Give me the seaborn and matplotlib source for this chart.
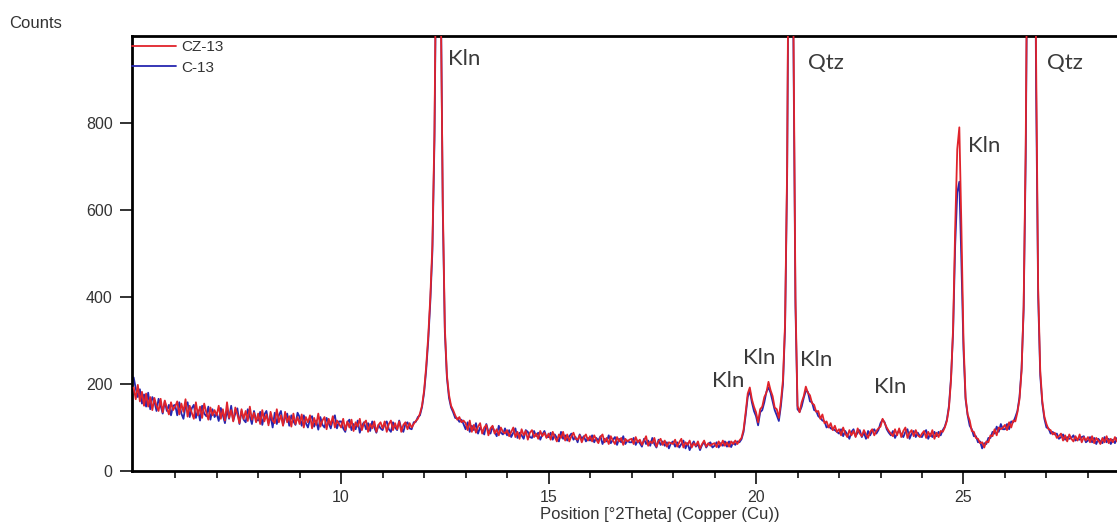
import numpy as np
import pandas as pd
import matplotlib
matplotlib.use("Agg")
import matplotlib.pyplot as plt
import seaborn as sns

# ---------------- data ----------------
scan_start = 5.00      # °2Theta
scan_step = 0.05       # °2Theta

series_names = ["CZ-13", "C-13"]

cz13_counts = [
    192,165,198,160,182,150,178,148,170,140,168,150,138,166,135,162,145,130,158,140,   # 5.00
    148,160,130,155,136,165,125,150,134,120,158,128,148,122,155,135,118,146,128,140,   # 6.00
    128,150,120,142,116,158,122,140,114,146,130,110,142,120,138,115,148,118,134,112,   # 7.00
    132,108,140,114,130,105,136,116,110,142,112,128,104,136,112,126,102,132,108,124,   # 8.00
    108,130,100,124,112,128,98,122,106,132,102,116,124,96,120,106,126,100,116,108,     # 9.00
    100,120,94,114,100,118,92,112,102,120,94,110,116,90,108,98,114,90,106,112,         # 10.00
    98,114,90,108,116,94,110,96,114,90,106,112,96,110,100,108,115,120,132,150,         # 11.00
    185,240,310,400,520,780,1300,2000,1100,620,330,220,175,150,140,128,118,124,112,116,# 12.00
    110,94,116,90,106,88,102,110,86,100,106,82,98,104,86,96,82,100,90,86,              # 13.00
    94,80,90,100,78,90,74,96,82,92,72,88,94,78,86,74,92,80,88,76,                      # 14.00
    86,72,90,78,68,84,76,90,70,84,68,80,88,74,72,82,66,78,84,70,                       # 15.00
    80,68,82,72,64,78,84,66,76,62,80,70,62,78,68,76,60,74,68,72,                       # 16.00
    74,62,78,66,72,60,70,80,58,68,64,76,56,68,74,60,70,56,66,64,                       # 17.00
    62,72,56,66,74,54,66,60,70,54,64,58,68,52,62,70,56,64,58,62,                       # 18.00
    64,55,68,58,70,58,66,56,68,62,70,62,70,76,95,135,178,192,165,148,                  # 19.00
    135,112,142,148,170,180,205,186,172,146,142,122,160,210,340,700,1500,3200,1050,400,# 20.00
    150,135,158,172,194,180,174,156,152,136,138,120,130,110,114,100,110,94,104,90,     # 21.00
    96,82,100,86,78,94,82,92,78,98,86,80,94,84,76,90,96,82,92,98,                      # 22.00
    102,120,110,100,92,86,80,96,82,98,78,92,100,76,88,94,80,94,82,78,                  # 23.00
    86,92,76,90,80,94,74,88,78,92,90,100,115,145,210,330,560,740,790,560,              # 24.00
    300,170,130,116,92,90,76,74,64,66,54,68,66,82,80,96,82,100,96,100,                 # 25.00
    106,94,112,100,116,114,135,165,230,380,750,1400,3500,4200,1800,950,420,230,160,125,# 26.00
    108,96,94,84,88,76,80,86,70,82,68,84,74,68,80,70,84,66,78,70,                      # 27.00
    78,66,80,64,76,70,62,76,66,80,64,74,66,78,68,                                      # 28.00-28.70
]

c13_counts = [
    215,190,170,188,155,176,148,180,142,170,160,138,166,150,132,160,138,152,128,150,
    152,128,158,132,120,150,158,124,144,152,122,140,116,150,132,126,148,118,142,124,
    132,115,145,128,110,140,120,150,116,132,144,108,138,118,112,142,125,108,138,118,
    116,136,106,130,138,110,126,100,134,108,128,138,106,122,132,104,128,114,106,134,
    124,104,128,110,100,120,126,102,116,95,124,106,100,122,110,98,118,128,98,114,
    114,98,90,112,118,94,108,96,116,88,104,112,96,110,92,114,100,88,106,98,
    94,108,114,96,90,112,100,94,116,98,90,108,112,98,96,112,113,124,128,147,
    180,232,300,390,505,760,1260,1950,1150,600,320,215,168,146,135,122,121,113,118,108,
    96,112,90,104,94,110,86,100,92,84,108,90,86,102,90,80,104,88,84,98,
    82,94,78,88,98,76,88,82,74,94,90,78,76,92,80,88,72,84,92,78,
    78,88,72,84,76,68,90,74,82,70,80,86,72,78,66,84,74,80,68,76,
    70,82,66,76,70,80,62,74,68,82,64,72,78,60,74,66,80,62,70,66,
    66,76,60,70,64,56,74,62,70,58,76,62,54,72,60,68,58,66,52,64,
    68,56,66,54,62,70,52,64,48,60,68,56,62,48,60,66,54,62,66,54,
    58,66,54,64,58,68,56,68,55,66,60,68,66,73,90,128,170,185,158,138,
    126,105,135,140,158,182,192,180,160,140,128,115,150,200,330,680,1450,3100,1000,380,
    142,136,148,168,184,182,160,158,140,138,126,122,116,114,100,104,98,96,94,90,
    86,96,80,92,84,74,90,96,80,88,94,78,88,74,92,82,92,96,86,94,
    110,118,112,96,88,82,92,76,86,94,84,78,90,96,74,86,92,78,88,80,
    78,88,94,74,86,78,90,80,90,82,94,102,118,150,215,320,520,640,665,480,
    280,165,128,104,96,80,80,66,68,52,64,62,76,76,90,86,102,90,108,96,
    96,108,96,114,112,124,138,170,235,370,720,1350,3400,4100,1700,880,400,220,155,120,
    100,98,86,90,84,86,74,78,84,72,78,74,76,82,70,74,72,78,80,66,
    70,78,66,76,62,74,68,64,78,66,74,62,72,64,76,
]

peak_labels = ["Kln", "Qtz", "Qtz", "Kln", "Kln", "Kln", "Kln", "Kln"]
peak_label_x = [12.58, 21.25, 27.01, 25.11, 18.94, 19.69, 21.06, 22.84]
peak_label_y = [946, 937, 937, 748, 207, 260, 256, 193]

x_major_ticks = [10, 15, 20, 25]
y_major_ticks = [0, 200, 400, 600, 800]

# ---------------- build long table ----------------
n = len(cz13_counts)
two_theta = np.round(scan_start + scan_step * np.arange(n), 2)
df = pd.concat([
    pd.DataFrame({"pos": two_theta, "counts": cz13_counts, "sample": "CZ-13"}),
    pd.DataFrame({"pos": two_theta, "counts": c13_counts, "sample": "C-13"}),
])

# ---------------- plot ----------------
sns.set_theme(style="ticks")
plt.rcParams["font.family"] = ["Liberation Sans", "DejaVu Sans"]

fig = plt.figure(figsize=(11.17, 5.30), dpi=100)
ax = fig.add_axes([132 / 1117, 59 / 530, 1 - 132 / 1117, (471 - 36) / 530])

red, blue = "#e0232b", "#2626b0"
palette = {"CZ-13": red, "C-13": blue}
sns.lineplot(data=df, x="pos", y="counts", hue="sample", hue_order=series_names,
             palette=palette, estimator=None, sort=False, linewidth=1.3, ax=ax)

# red trace drawn above the blue one
for line in ax.lines:
    if matplotlib.colors.same_color(line.get_color(), red):
        line.set_zorder(3)
    else:
        line.set_zorder(2)

ax.set_xlim(4.96, 28.7)
ax.set_ylim(0, 1000)
ax.set_xticks(x_major_ticks)
ax.set_xticks(np.arange(6, 29, 1), minor=True)
ax.set_yticks(y_major_ticks)

for s in ["left", "bottom", "top"]:
    ax.spines[s].set_visible(True)
    ax.spines[s].set_linewidth(2.0)
    ax.spines[s].set_color("black")
ax.spines["right"].set_visible(False)

ax.tick_params(axis="both", which="major", length=9, width=1.3, color="#222222",
               labelsize=11.5, labelcolor="#333333", pad=5, direction="out")
ax.tick_params(axis="x", which="minor", length=5, width=1.3, color="#222222", direction="out")
ax.tick_params(top=False, right=False)

ax.set_xlabel("Position [°2Theta] (Copper (Cu))", fontsize=12, color="#333333")
ax.set_ylabel("")
ax.xaxis.set_label_coords(0.536, -0.083)

fig.text(36 / 1117, 1 - 24 / 530, "Counts", fontsize=12, color="#333333",
         ha="center", va="center")

for lab, lx, ly in zip(peak_labels, peak_label_x, peak_label_y):
    ax.text(lx, ly, lab, fontsize=16, color="#3a3a3a", ha="left", va="center",
            family=["Lato", "DejaVu Sans"])

handles, labels = ax.get_legend_handles_labels()
for h in handles:
    h.set_linewidth(1.3)
ax.legend(handles, labels, loc="upper left", bbox_to_anchor=(0.0, 0.990),
          frameon=False, fontsize=11, handlelength=2.9, handletextpad=0.3,
          borderpad=0.0, borderaxespad=0.0, labelspacing=0.42,
          labelcolor="#333333")

fig.savefig("out.png", dpi=100, facecolor="white")
